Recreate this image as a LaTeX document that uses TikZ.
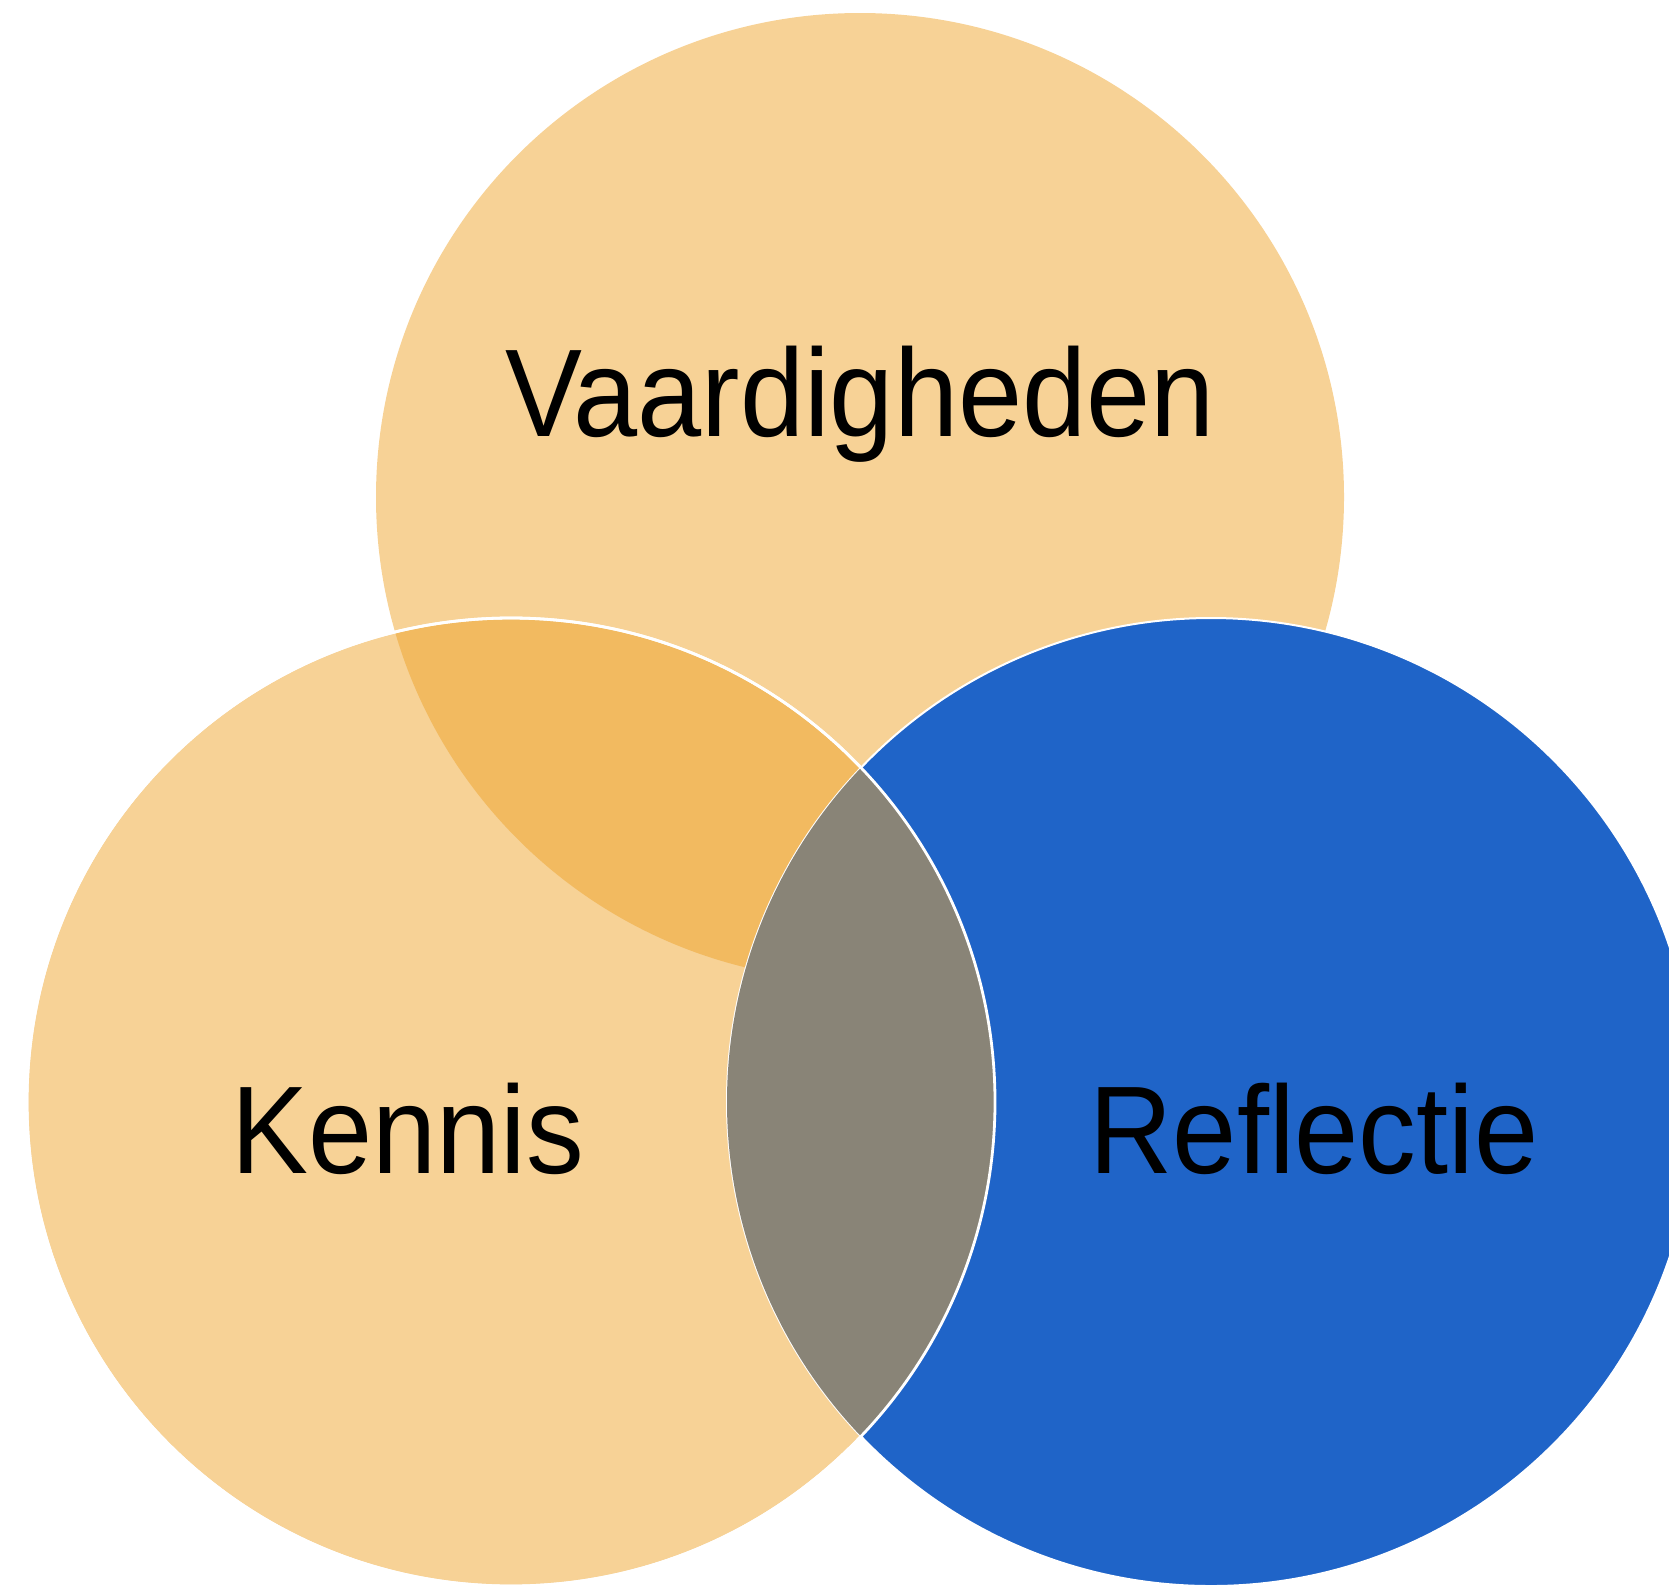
\documentclass[tikz,border=0pt]{standalone}
\usepackage{fontspec}
\setmainfont{Liberation Sans}
\definecolor{lichtoranje}{HTML}{F7D296}
\definecolor{donkeroranje}{HTML}{F2BA60}
\definecolor{blauw}{HTML}{1F64C8}
\definecolor{grijs}{HTML}{898477}
\tikzset{
  label/.style={anchor=base,xscale=0.924,font=\fontsize{62.4pt}{63pt}\selectfont},
  rand/.style={draw=white,line width=1.4pt}
}
\begin{document}
\begin{tikzpicture}[x=0.5pt,y=-0.5pt]
      \useasboundingbox (0,0) rectangle (1669,1587);
      \clip (0,0) rectangle (1669,1587);
      \coordinate (vaard) at (860,497);
      \coordinate (kennis) at (511,1102);
      \coordinate (refl) at (1211,1102);
      \fill[lichtoranje] (vaard) circle (484);
      \fill[lichtoranje] (kennis) circle (484);
      \begin{scope}
        \clip (vaard) circle (484);
        \fill[donkeroranje] (kennis) circle (484);
      \end{scope}
      \draw[rand] (kennis) circle (484);
      \fill[blauw] (refl) circle (484);
      \draw[rand,line width=1pt] (refl) circle (484);
      \begin{scope}
        \clip (kennis) circle (484);
        \fill[grijs] (refl) circle (484);
      \end{scope}
      \draw[rand] (kennis) circle (484);
      \node[label] (v) at (860,436) {Vaardigheden};
      \node[label] (k) at (408,1173) {Kennis};
      \node[label] (r) at (1314,1173) {Reflectie};
    \end{tikzpicture}
\end{document}
